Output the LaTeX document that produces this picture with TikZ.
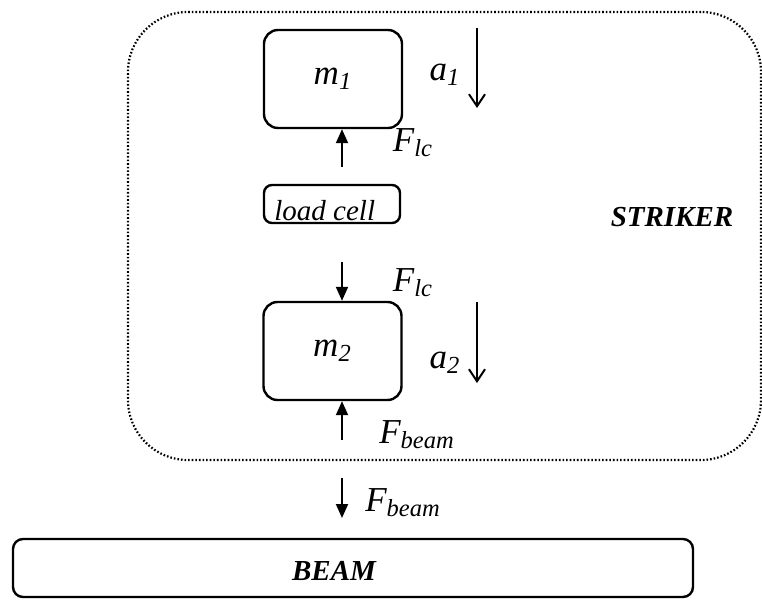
\documentclass[tikz,border=0pt]{standalone}
\usepackage{fontspec}
\setmainfont{Liberation Serif}
\usetikzlibrary{arrows.meta}
\newcommand{\withsub}[2]{#1\textsubscript{#2}}
\tikzset{
  mass/.style={draw,line width=1.2pt,rounded corners=7pt,minimum width=69pt,minimum height=49pt,inner sep=0pt},
  force/.style={-{Triangle[length=7pt,width=6pt]},line width=1pt},
  accel/.style={-{Straight Barb[length=6pt,width=8pt]},line width=1pt},
  dotbox/.style={draw,line width=1.1pt,dash pattern=on 0.8pt off 1pt,rounded corners=30pt,minimum width=316.5pt,minimum height=224pt},
  title/.style={font=\fontsize{14.5}{17}\selectfont\bfseries\itshape},
}
\begin{document}
\begin{tikzpicture}[x=0.5pt,y=-0.5pt,every node/.style={font=\fontsize{17.5}{20}\selectfont\itshape,inner sep=0pt}]
\useasboundingbox (0,0) rectangle (762,600);
% striker outline
\node[dotbox] (striker) at (444.5,236) {};
\node[title] (strikerlbl) at (672,217) {STRIKER};
% masses and load cell
\node[mass] (m1) at (333,79) {\withsub{m}{1}};
\node[draw,line width=1.2pt,rounded corners=4pt,minimum width=68pt,minimum height=19pt] (cell) at (332,204) {};
\node[anchor=base west,font=\fontsize{14.5}{17}\selectfont\itshape] (celllbl) at (274,220) {load cell};
\node[mass] (m2) at (332.5,351) {\withsub{m}{2}};
% beam
\node[draw,line width=1.2pt,rounded corners=5pt,minimum width=340pt,minimum height=29pt] (beam) at (353,568) {};
\node[title] (beamlbl) at (334,571) {BEAM};
% accelerations
\coordinate (a1top) at (477,28);
\coordinate (a1end) at (477,108);
\draw[accel] (a1top) -- (a1end);
\node (a1lbl) at (445,75) {\withsub{a}{1}};
\coordinate (a2top) at (477,302);
\coordinate (a2end) at (477,383);
\draw[accel] (a2top) -- (a2end);
\node (a2lbl) at (445,363) {\withsub{a}{2}};
% forces
\coordinate (f1) at (342,167);
\draw[force] (f1) -- (f1 |- m1.south);
\node (f1lbl) at (413,143) {\withsub{F}{lc}};
\coordinate (f2) at (342,262);
\draw[force] (f2) -- (f2 |- m2.north);
\node (f2lbl) at (413,283) {\withsub{F}{lc}};
\coordinate (f3) at (342,440);
\draw[force] (f3) -- (f3 |- m2.south);
\node (f3lbl) at (417,435) {\withsub{F}{beam}};
\coordinate (f4) at (342,478);
\coordinate (f4end) at (342,518);
\draw[force] (f4) -- (f4end);
\node (f4lbl) at (403,503) {\withsub{F}{beam}};
\end{tikzpicture}
\end{document}
